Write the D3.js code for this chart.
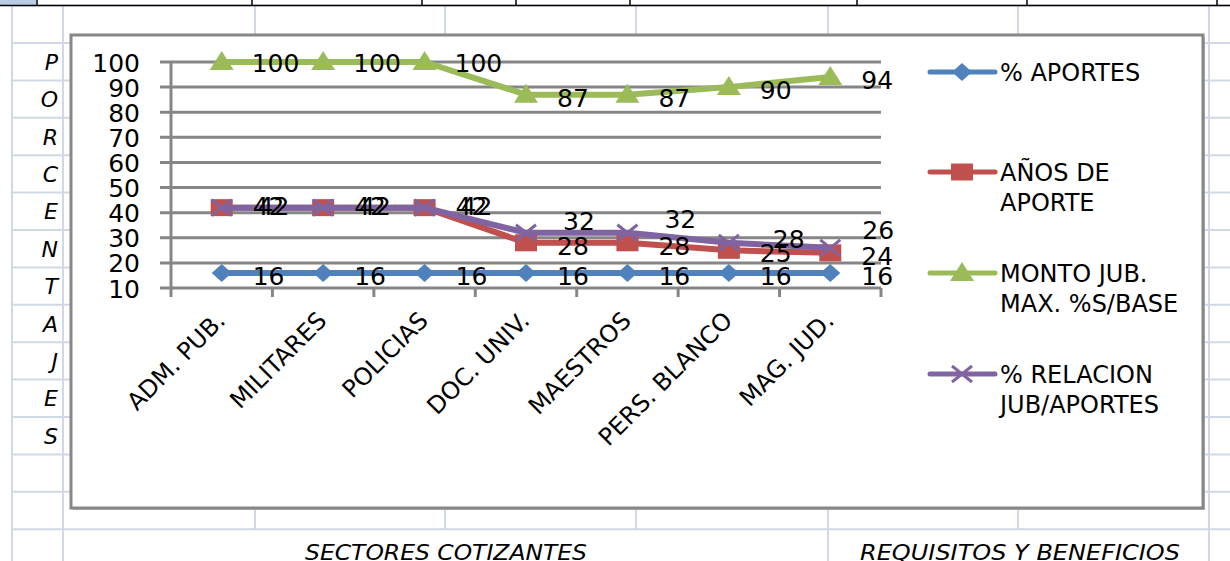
<!DOCTYPE html>
<html>
<head>
<meta charset="utf-8">
<script src="https://cdn.jsdelivr.net/npm/d3@7"></script>
<style>
  body { margin: 0; background: #fff; }
  svg { display: block; }
</style>
</head>
<body>
<div id="chart"></div>
<script>
// data
var sectors = ['ADM. PUB.', 'MILITARES', 'POLICIAS', 'DOC. UNIV.', 'MAESTROS', 'PERS. BLANCO', 'MAG. JUD.']
var aportes = [16, 16, 16, 16, 16, 16, 16]
var aniosAporte = [42, 42, 42, 28, 28, 25, 24]
var montoJub = [100, 100, 100, 87, 87, 90, 94]
var relacion = [42, 42, 42, 32, 32, 28, 26]
var yTicks = [10, 20, 30, 40, 50, 60, 70, 80, 90, 100]
var seriesNames = [['% APORTES'], ['AÑOS DE', 'APORTE'], ['MONTO JUB.', 'MAX. %S/BASE'], ['% RELACION', 'JUB/APORTES']]
var sideLetters = 'PORCENTAJES'.split('')

var W = 1230
var H = 561

var svg = d3
  .select('#chart')
  .append('svg')
  .attr('width', W)
  .attr('height', H)

svg.append('rect').attr('width', W).attr('height', H).attr('fill', '#fff')

// ---- spreadsheet background ----
var gridColor = '#d0d7e5'
var colX = [12, 63, 255, 445, 636, 828, 1018, 1209]
var rowY = d3.range(14).map(k => 43 + 37.4 * k)

svg
  .selectAll('.row-line')
  .data([5.6].concat(rowY))
  .enter()
  .append('line')
  .attr('x1', 12)
  .attr('x2', W)
  .attr('y1', d => d)
  .attr('y2', d => d)
  .attr('stroke', gridColor)
  .attr('stroke-width', 2)

svg
  .selectAll('.col-line')
  .data(colX)
  .enter()
  .append('line')
  .attr('x1', d => d)
  .attr('x2', d => d)
  .attr('y1', 5)
  .attr('y2', d => ([12, 63, 828, 1209].indexOf(d) >= 0 ? H : rowY[13]))
  .attr('stroke', gridColor)
  .attr('stroke-width', 2)

// column header strip
svg.append('rect').attr('x', 0).attr('y', 0).attr('width', 36).attr('height', 5).attr('fill', '#b8cce4')
svg.append('line').attr('x1', 0).attr('x2', W).attr('y1', 5.5).attr('y2', 5.5).attr('stroke', '#000').attr('stroke-width', 1.5)
svg
  .selectAll('.hdr')
  .data([37, 252, 422, 516, 630, 857, 1027, 1217])
  .enter()
  .append('line')
  .attr('x1', d => d)
  .attr('x2', d => d)
  .attr('y1', 0)
  .attr('y2', 6)
  .attr('stroke', '#000')
  .attr('stroke-width', 1.5)

// PORCENTAJES down the left column
svg
  .selectAll('.side-letter')
  .data(sideLetters)
  .enter()
  .append('text')
  .text(d => d)
  .attr('x', 58)
  .attr('y', (d, i) => (rowY[i] + rowY[i + 1]) / 2 + 8)
  .attr('text-anchor', 'end')
  .attr('font-family', 'DejaVu Sans')
  .attr('font-style', 'italic')
  .attr('font-size', 22)
  .attr('fill', '#000')

// bottom captions
svg
  .append('text')
  .text('SECTORES COTIZANTES')
  .attr('x', 446)
  .attr('y', 560)
  .attr('text-anchor', 'middle')
  .attr('font-family', 'DejaVu Sans')
  .attr('font-style', 'italic')
  .attr('font-size', 21)
  .attr('textLength', 282)
  .attr('lengthAdjust', 'spacingAndGlyphs')

svg
  .append('text')
  .text('REQUISITOS Y BENEFICIOS')
  .attr('x', 1020)
  .attr('y', 560)
  .attr('text-anchor', 'middle')
  .attr('font-family', 'DejaVu Sans')
  .attr('font-style', 'italic')
  .attr('font-size', 21)
  .attr('textLength', 320)
  .attr('lengthAdjust', 'spacingAndGlyphs')

// ---- chart box ----
svg
  .append('rect')
  .attr('x', 73)
  .attr('y', 37)
  .attr('width', 1132)
  .attr('height', 473)
  .attr('fill', '#bdbdbd')
svg
  .append('rect')
  .attr('x', 71)
  .attr('y', 35)
  .attr('width', 1132)
  .attr('height', 473)
  .attr('fill', '#fff')
  .attr('stroke', '#878787')
  .attr('stroke-width', 3)

// ---- scales ----
var xScale = d3.scaleBand().domain(sectors).range([171, 881])
var yScale = d3.scaleLinear().domain([10, 100]).range([288, 62])
var cx = d => xScale(d) + xScale.bandwidth() / 2

var axisColor = '#868686'

// gridlines
svg
  .selectAll('.grid')
  .data(yTicks)
  .enter()
  .append('line')
  .attr('x1', 160)
  .attr('x2', 881)
  .attr('y1', d => yScale(d))
  .attr('y2', d => yScale(d))
  .attr('stroke', axisColor)
  .attr('stroke-width', 3)

// y axis
var yAxis = d3.axisLeft(yScale).tickValues(yTicks).tickSize(0).tickPadding(31)
var yG = svg.append('g').attr('transform', 'translate(171,0)').call(yAxis)
yG.select('.domain').remove()
yG
  .selectAll('text')
  .attr('font-family', 'DejaVu Sans')
  .attr('font-size', 25)
  .attr('fill', '#000')
  .attr('dy', '0.36em')

svg
  .append('line')
  .attr('x1', 171)
  .attr('x2', 171)
  .attr('y1', 61)
  .attr('y2', 297)
  .attr('stroke', axisColor)
  .attr('stroke-width', 3)

// x axis ticks at band edges
var edges = sectors.map(d => xScale(d)).concat([881])
svg
  .selectAll('.xtick')
  .data(edges.slice(1))
  .enter()
  .append('line')
  .attr('x1', d => d)
  .attr('x2', d => d)
  .attr('y1', 288)
  .attr('y2', 297)
  .attr('stroke', axisColor)
  .attr('stroke-width', 3)

svg
  .selectAll('.xlabel')
  .data(sectors)
  .enter()
  .append('text')
  .text(d => d)
  .attr('transform', d => 'translate(' + (cx(d) + 5) + ',322) rotate(-45)')
  .attr('text-anchor', 'end')
  .attr('font-family', 'DejaVu Sans')
  .attr('font-size', 24)
  .attr('fill', '#000')

// ---- series ----
var series = [
  { name: seriesNames[0], values: aportes, color: '#4F81BD', marker: 'diamond' },
  { name: seriesNames[1], values: aniosAporte, color: '#C0504D', marker: 'square' },
  { name: seriesNames[2], values: montoJub, color: '#9BBB59', marker: 'triangle' },
  { name: seriesNames[3], values: relacion, color: '#8064A2', marker: 'x' }
]

var line = d3
  .line()
  .x((d, i) => cx(sectors[i]))
  .y(d => yScale(d))

function drawMarker(g, type, color) {
  if (type === 'diamond') {
    g.append('path').attr('d', 'M0,-9L10,0L0,9L-10,0Z').attr('fill', color)
  } else if (type === 'square') {
    g.append('rect').attr('x', -11).attr('y', -8.5).attr('width', 22).attr('height', 17).attr('fill', color)
  } else if (type === 'triangle') {
    g.append('path').attr('d', 'M0,-11L12,8L-12,8Z').attr('fill', color)
  } else {
    g.append('path')
      .attr('d', 'M-10,-8L10,8M-10,8L10,-8')
      .attr('stroke', color)
      .attr('stroke-width', 3)
      .attr('fill', 'none')
  }
}

series.forEach(s => {
  svg
    .append('path')
    .attr('d', line(s.values))
    .attr('fill', 'none')
    .attr('stroke', s.color)
    .attr('stroke-width', 6)
    .attr('stroke-linejoin', 'round')

  s.values.forEach((v, i) => {
    var g = svg.append('g').attr('transform', 'translate(' + cx(sectors[i]) + ',' + yScale(v) + ')')
    drawMarker(g, s.marker, s.color)
  })
})

// data labels, placed right of the point; a few were dragged by hand in the sheet
var labelNudge = {
  '1-0': [31, -2], '1-1': [31, -2], '1-2': [31, -2],
  '2-0': [30, 1], '2-1': [30, 1], '2-2': [30, 1],
  '3-0': [36, -2], '3-1': [36, -2], '3-2': [36, -2],
  '3-3': [37, -12], '3-4': [37, -14], '3-5': [44, -4], '3-6': [32, -18]
}

series.forEach((s, si) => {
  s.values.forEach((v, i) => {
    var n = labelNudge[si + '-' + i] || [31, 3]
    svg
      .append('text')
      .text(v)
      .attr('x', cx(sectors[i]) + n[0])
      .attr('y', yScale(v) + n[1] + 9)
      .attr('font-family', 'DejaVu Sans')
      .attr('font-size', 25)
      .attr('fill', '#000')
  })
})

// ---- legend ----
var legendY = [72, 172, 273, 374]
series.forEach((s, si) => {
  var ly = legendY[si]
  svg
    .append('line')
    .attr('x1', 930)
    .attr('x2', 995)
    .attr('y1', ly)
    .attr('y2', ly)
    .attr('stroke', s.color)
    .attr('stroke-width', 5)
    .attr('stroke-linecap', 'round')
  var g = svg.append('g').attr('transform', 'translate(962,' + ly + ')')
  drawMarker(g, s.marker, s.color)

  s.name.forEach((t, k) => {
    svg
      .append('text')
      .text(t)
      .attr('x', 1000)
      .attr('y', ly + 9 + k * 30)
      .attr('font-family', 'DejaVu Sans')
      .attr('font-size', 24)
      .attr('fill', '#000')
  })
})
</script>
</body>
</html>
